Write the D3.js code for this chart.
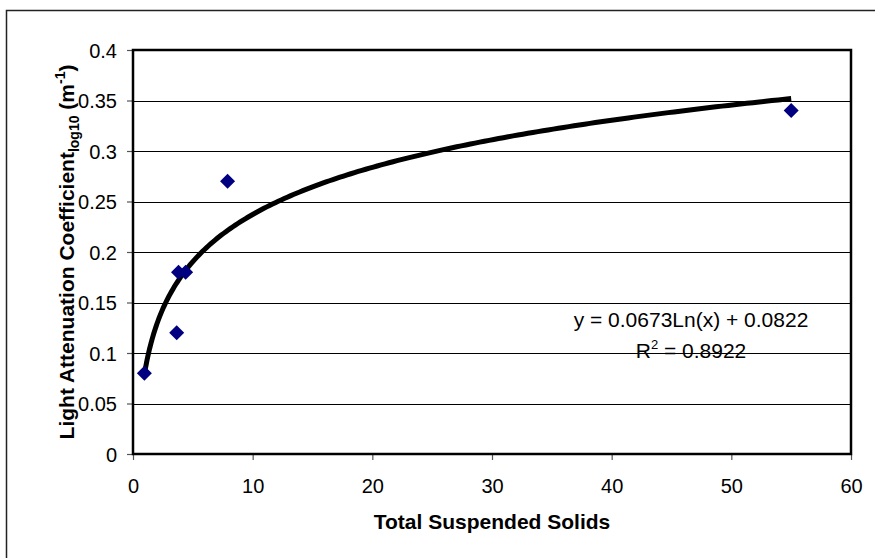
<!DOCTYPE html>
<html lang="en">
<head>
  <meta charset="UTF-8">
  <title>Light Attenuation vs Total Suspended Solids</title>
  <script src="https://d3js.org/d3.v7.min.js"></script>
  <style>
    body {
      margin: 0;
      background: #fff;
      font-family: "Liberation Sans", Arial, sans-serif;
    }
    .tick-label {
      font-size: 20px;
      fill: #000;
    }
    .axis-title {
      font-size: 21px;
      font-weight: bold;
      fill: #000;
    }
    .eq {
      font-size: 21px;
      fill: #000;
    }
  </style>
</head>
<body>
  <svg id="chart" width="875" height="558"></svg>

  <script>
    // measured points
    const tss = [0.95, 3.65, 3.8, 4.4, 7.9, 55];
    const attenuation = [0.08, 0.12, 0.18, 0.18, 0.27, 0.34];

    // tick values
    const xTicks = [0, 10, 20, 30, 40, 50, 60];
    const yTicks = [0, 0.05, 0.1, 0.15, 0.2, 0.25, 0.3, 0.35, 0.4];

    // logarithmic trendline shown on the chart: y = a*ln(x) + b
    const trendCoef = [0.0673, 0.0822];
    const trendLabel = ["y = 0.0673Ln(x) + 0.0822", "0.8922"];

    const plot = { left: 133, right: 851, top: 50, bottom: 454 };

    const svg = d3.select("#chart");

    // outer chart frame (runs off the page at right/bottom like the original)
    svg.append("rect")
      .attr("x", 6.5).attr("y", 10.5)
      .attr("width", 900).attr("height", 600)
      .attr("fill", "none")
      .attr("stroke", "#222")
      .attr("stroke-width", 1.5);

    const x = d3.scaleLinear().domain([0, 60]).range([plot.left, plot.right]);
    const y = d3.scaleLinear().domain([0, 0.4]).range([plot.bottom, plot.top]);

    // gridlines
    svg.append("g")
      .selectAll("line")
      .data(yTicks.filter(t => t > 0 && t < 0.4))
      .join("line")
      .attr("x1", plot.left).attr("x2", plot.right)
      .attr("y1", d => Math.round(y(d)) + 0.5)
      .attr("y2", d => Math.round(y(d)) + 0.5)
      .attr("stroke", "#000")
      .attr("stroke-width", 1);

    // axes
    const yAxis = svg.append("g")
      .attr("transform", `translate(${plot.left},0)`)
      .call(d3.axisLeft(y).tickValues(yTicks).tickSize(6).tickFormat(d3.format("")));
    yAxis.select(".domain").remove();
    yAxis.selectAll(".tick line").attr("stroke", "#555").attr("stroke-width", 1.2);
    yAxis.selectAll(".tick text")
      .attr("class", "tick-label")
      .attr("x", -16)
      .attr("dy", "0.36em")
      .attr("font-family", null).attr("font-size", null);

    const xAxis = svg.append("g")
      .attr("transform", `translate(0,${plot.bottom})`)
      .call(d3.axisBottom(x).tickValues(xTicks).tickSize(6));
    xAxis.select(".domain").remove();
    xAxis.selectAll(".tick line").attr("stroke", "#555").attr("stroke-width", 1.2);
    xAxis.selectAll(".tick text")
      .attr("class", "tick-label")
      .attr("y", 39)
      .attr("dy", 0)
      .attr("font-family", null).attr("font-size", null);

    // plot area border
    svg.append("rect")
      .attr("x", plot.left).attr("y", plot.top)
      .attr("width", plot.right - plot.left)
      .attr("height", plot.bottom - plot.top)
      .attr("fill", "none")
      .attr("stroke", "#000")
      .attr("stroke-width", 2.5);

    // trendline over the data range
    const xMin = d3.min(tss), xMax = d3.max(tss);
    const trendX = d3.range(0, 201).map(i => xMin + (xMax - xMin) * Math.pow(i / 200, 2));
    svg.append("path")
      .datum(trendX)
      .attr("fill", "none")
      .attr("stroke", "#000")
      .attr("stroke-width", 5)
      .attr("d", d3.line()
        .x(d => x(d))
        .y(d => y(trendCoef[0] * Math.log(d) + trendCoef[1])));

    // diamond markers
    const r = 7.5;
    svg.append("g")
      .selectAll("path")
      .data(tss.map((d, i) => [d, attenuation[i]]))
      .join("path")
      .attr("fill", "#000080")
      .attr("d", d => {
        const cx = x(d[0]), cy = y(d[1]);
        return `M${cx},${cy - r}L${cx + r},${cy}L${cx},${cy + r}L${cx - r},${cy}Z`;
      });

    // equation text
    svg.append("text")
      .attr("class", "eq")
      .attr("x", 691).attr("y", 327)
      .attr("text-anchor", "middle")
      .text(trendLabel[0]);

    const r2 = svg.append("text")
      .attr("class", "eq")
      .attr("x", 691).attr("y", 358)
      .attr("text-anchor", "middle");
    r2.append("tspan").text("R");
    r2.append("tspan").attr("font-size", "13px").attr("dy", -9).text("2");
    r2.append("tspan").attr("dy", 9).text(" = " + trendLabel[1]);

    // axis titles
    svg.append("text")
      .attr("class", "axis-title")
      .attr("x", (plot.left + plot.right) / 2)
      .attr("y", 529)
      .attr("text-anchor", "middle")
      .text("Total Suspended Solids");

    const yt = svg.append("text")
      .attr("class", "axis-title")
      .attr("text-anchor", "middle")
      .attr("transform", `translate(74,${(plot.top + plot.bottom) / 2}) rotate(-90)`);
    yt.append("tspan").text("Light Attenuation Coefficient");
    yt.append("tspan").attr("font-size", "14px").attr("dy", 5).text("log10");
    yt.append("tspan").attr("dy", -5).text(" (m");
    yt.append("tspan").attr("font-size", "14px").attr("dy", -9).text("-1");
    yt.append("tspan").attr("dy", 9).text(")");
  </script>
</body>
</html>
